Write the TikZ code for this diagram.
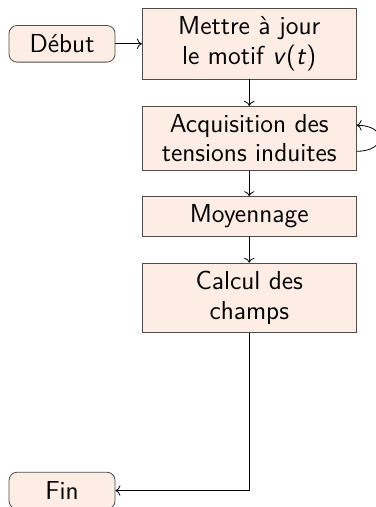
\documentclass[tikz,border=0pt]{standalone}
\usepackage{tikz}
\usetikzlibrary{arrows.meta, positioning}

\definecolor{boxfill}{HTML}{FDEDE5}

\begin{document}
\begin{tikzpicture}[
    stage/.style={rectangle, draw=black!70, fill=boxfill, minimum width=107pt, inner ysep=4pt, align=center, font=\sffamily\fontsize{13}{14.8}\selectfont},
    terminal/.style={stage, rounded corners=4pt, minimum width=53pt, minimum height=18.3pt},
    flow/.style={->}
]
    \useasboundingbox (0, 0) rectangle (6.607, -8.909);

    \node[terminal] (debut) at (1.09, -0.77) {Début};
    \node[stage] (motif) at (4.38, -0.77) {Mettre à jour\\le motif \textit{v}(\textit{t})};
    \node[stage] (acq) at (4.38, -2.43) {Acquisition des\\tensions induites};
    \node[stage] (moy) at (4.38, -3.80) {Moyennage};
    \node[stage] (calc) at (4.38, -5.23) {Calcul des\\champs};
    \node[terminal] (fin) at (1.09, -8.62) {Fin};

    \draw[flow] (debut) -- (motif);
    \draw[flow] (motif) -- (acq);
    \draw[flow] ([yshift=-6.5pt]acq.east) to[out=0, in=0, looseness=3] ([yshift=6.5pt]acq.east);
    \draw[flow] (acq) -- (moy);
    \draw[flow] (moy) -- (calc);
    \draw[flow] (calc.south) |- (fin.east);
\end{tikzpicture}
\end{document}
